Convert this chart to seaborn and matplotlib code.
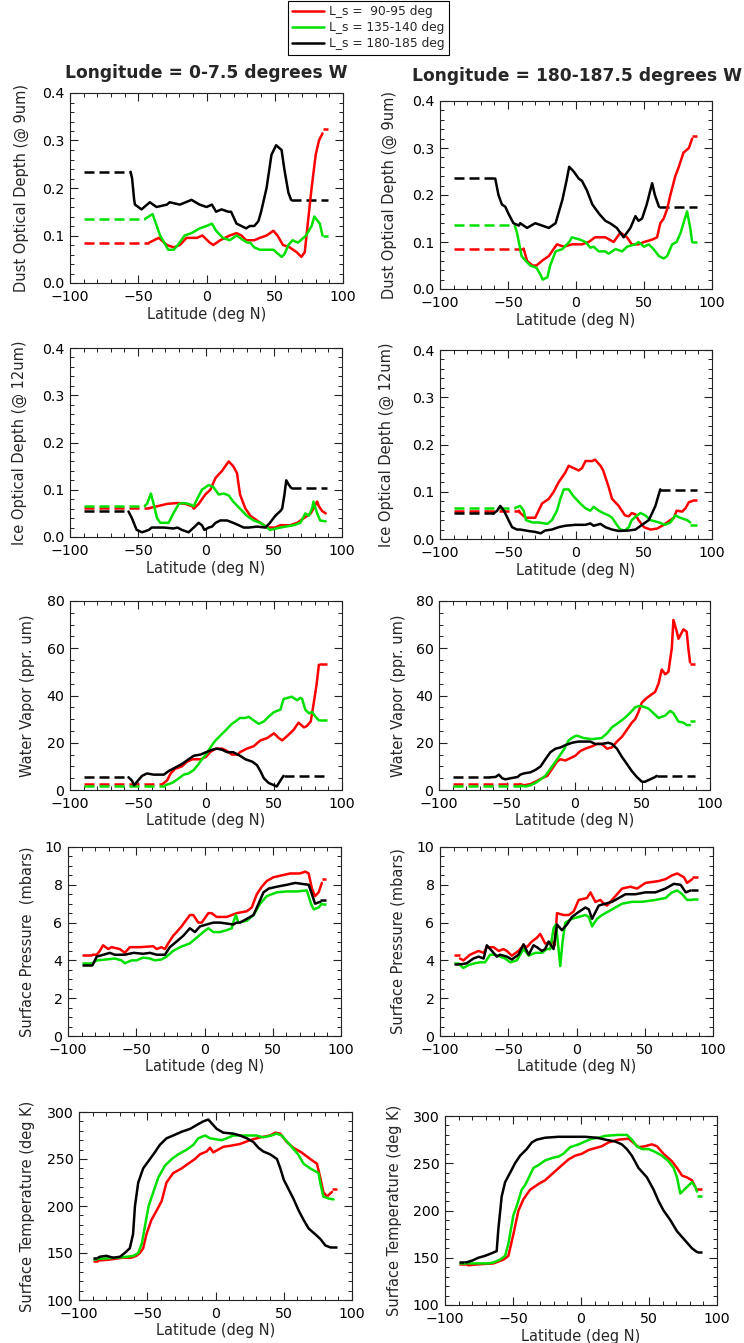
import matplotlib
matplotlib.use("Agg")
import matplotlib.pyplot as plt
from matplotlib.ticker import MultipleLocator, FormatStrFormatter
import pandas as pd
import seaborn as sns

# ---------------------------------------------------------------- seasons
SEASONS = ["L_s =  90-95 deg", "L_s = 135-140 deg", "L_s = 180-185 deg"]
COLORS = ["#ff0000", "#00e000", "#000000"]

# ---------------------------------------------------------------- dust, 0-7.5 W
dust_w0_red_lat = [-42, -35, -29, -24, -19.5, -14.6, -7, -3, 2.4, 5, 10, 17, 22, 25.6, 29, 35, 39, 44, 49,
                   52, 56, 61, 66, 69.5, 72, 74, 77, 80, 82.4, 85]
dust_w0_red_val = [0.085, 0.095, 0.08, 0.075, 0.08, 0.095, 0.095, 0.1, 0.085, 0.08, 0.09, 0.1, 0.105, 0.1,
                   0.09, 0.09, 0.095, 0.1, 0.11, 0.1, 0.08, 0.075, 0.065, 0.055, 0.065, 0.12, 0.2, 0.27, 0.3,
                   0.315]
dust_w0_red_ends = (0.085, 0.325)
dust_w0_grn_lat = [-45, -39.5, -34, -28, -24, -21, -16, -11, -5, 0, 4, 7, 12, 17, 22, 27, 30, 32, 35, 39, 49,
                   51, 55, 57, 60, 63, 67, 71, 73, 77, 79, 83, 85]
dust_w0_grn_val = [0.135, 0.145, 0.1, 0.07, 0.07, 0.08, 0.1, 0.105, 0.115, 0.12, 0.125, 0.11, 0.095, 0.09,
                   0.1, 0.09, 0.085, 0.085, 0.075, 0.07, 0.07, 0.065, 0.055, 0.06, 0.08, 0.09, 0.085, 0.095,
                   0.1, 0.12, 0.14, 0.125, 0.1]
dust_w0_grn_ends = (0.134, 0.1)
dust_w0_blk_lat = [-55.6, -54.5, -53, -52.4, -47.6, -41.5, -36.6, -29, -27, -19.5, -11, -5, 0, 4, 7, 11, 16,
                   18, 22, 25.6, 29, 31.7, 35, 38, 40, 44, 47.6, 51, 55, 57, 60, 62]
dust_w0_blk_val = [0.234, 0.22, 0.175, 0.165, 0.155, 0.17, 0.16, 0.165, 0.17, 0.165, 0.175, 0.165, 0.16,
                   0.165, 0.15, 0.155, 0.15, 0.15, 0.125, 0.12, 0.115, 0.12, 0.12, 0.13, 0.15, 0.2, 0.27, 0.29,
                   0.28, 0.24, 0.19, 0.175]
dust_w0_blk_ends = (0.234, 0.175)

# ---------------------------------------------------------------- dust, 180-187.5 W
dust_w180_red_lat = [-38.5, -36, -32, -29, -25, -20, -17.7, -14, -9, -3, 4.4, 9.3, 14, 21.6, 27.7, 32.6, 37.5,
                     41, 46, 50, 56, 59.6, 62, 64.5, 67, 69.4, 73, 75.6, 79, 83, 85.4]
dust_w180_red_val = [0.086, 0.06, 0.05, 0.05, 0.06, 0.07, 0.08, 0.095, 0.09, 0.095, 0.095, 0.1, 0.11, 0.11,
                     0.1, 0.12, 0.11, 0.095, 0.095, 0.1, 0.105, 0.11, 0.14, 0.15, 0.17, 0.2, 0.24, 0.26, 0.29,
                     0.3, 0.32]
dust_w180_red_ends = (0.086, 0.325)
dust_w180_grn_lat = [-45, -43.4, -40, -37, -33.6, -29, -26, -24.5, -21, -19, -15, -10, -5, -3, 3, 7, 10.5, 13,
                     16.7, 21.6, 24, 29, 34, 37.5, 43.7, 46, 50, 53.5, 57, 61, 64.5, 67, 70.7, 74, 77, 79,
                     81.7, 84, 85.4]
dust_w180_grn_val = [0.135, 0.12, 0.07, 0.06, 0.05, 0.045, 0.03, 0.02, 0.025, 0.05, 0.08, 0.085, 0.1, 0.11,
                     0.105, 0.1, 0.088, 0.09, 0.08, 0.08, 0.075, 0.085, 0.08, 0.09, 0.095, 0.1, 0.09, 0.095,
                     0.085, 0.07, 0.065, 0.07, 0.095, 0.1, 0.12, 0.14, 0.165, 0.13, 0.1]
dust_w180_grn_ends = (0.136, 0.1)
dust_w180_blk_lat = [-59.4, -57, -54.5, -52, -49.6, -46, -42, -41, -36, -30, -25, -20, -15, -10, -7, -5, -1.7,
                     2, 4.4, 8, 12, 17, 21.6, 25, 30, 35, 37.5, 40, 43.7, 46, 48.6, 52, 56, 58, 61]
dust_w180_blk_val = [0.235, 0.2, 0.18, 0.175, 0.16, 0.14, 0.135, 0.14, 0.13, 0.14, 0.135, 0.13, 0.14, 0.19,
                     0.23, 0.26, 0.25, 0.235, 0.23, 0.21, 0.18, 0.16, 0.145, 0.14, 0.13, 0.11, 0.12, 0.13,
                     0.155, 0.145, 0.15, 0.18, 0.225, 0.2, 0.175]
dust_w180_blk_ends = (0.237, 0.175)

# ---------------------------------------------------------------- ice, 0-7.5 W
ice_w0_red_lat = [-42, -36, -28.7, -21, -15, -10, -9, -5.4, -0.5, 3.2, 7, 11.8, 16.7, 20, 22.8, 25, 29, 32.6,
                  37.5, 42.5, 45, 51, 54.7, 62, 67, 72, 77, 79, 81.7, 83, 85.4, 88]
ice_w0_red_val = [0.061, 0.065, 0.07, 0.072, 0.07, 0.065, 0.06, 0.07, 0.09, 0.1, 0.125, 0.14, 0.16, 0.15,
                  0.135, 0.09, 0.06, 0.045, 0.035, 0.025, 0.02, 0.02, 0.025, 0.025, 0.03, 0.04, 0.05, 0.06,
                  0.075, 0.065, 0.055, 0.05]
ice_w0_red_ends = (0.061, None)
ice_w0_grn_lat = [-45, -43.4, -40.5, -38.5, -36, -33.6, -27.5, -24, -20, -16.4, -12.8, -9, -6.6, -3, 2, 5.6,
                  9.3, 13, 16.7, 20, 25, 30, 35, 40, 42.5, 45, 47, 54.7, 64.5, 69.4, 73, 75.6, 78, 79, 81.7,
                  84, 88]
ice_w0_grn_val = [0.066, 0.07, 0.092, 0.07, 0.04, 0.03, 0.03, 0.05, 0.07, 0.072, 0.07, 0.065, 0.08, 0.1,
                  0.11, 0.105, 0.09, 0.092, 0.088, 0.075, 0.06, 0.045, 0.035, 0.03, 0.025, 0.02, 0.015, 0.02,
                  0.025, 0.03, 0.05, 0.045, 0.06, 0.075, 0.05, 0.035, 0.033]
ice_w0_grn_ends = (0.066, None)
ice_w0_blk_lat = [-57, -54.5, -51, -47, -42, -40, -31, -24, -21, -17.7, -12.8, -9, -5.4, -3, -1.2, 2, 4.4, 7,
                  10.5, 15.5, 20, 24, 27.7, 31.4, 37.5, 43.7, 47, 51, 54.7, 56, 57.7, 59, 61, 62.6]
ice_w0_blk_val = [0.054, 0.04, 0.015, 0.01, 0.015, 0.02, 0.02, 0.018, 0.02, 0.015, 0.01, 0.02, 0.03, 0.025,
                  0.015, 0.02, 0.022, 0.03, 0.035, 0.035, 0.03, 0.025, 0.02, 0.02, 0.022, 0.02, 0.03, 0.045,
                  0.055, 0.06, 0.09, 0.12, 0.11, 0.104]
ice_w0_blk_ends = (0.054, 0.104)

# ---------------------------------------------------------------- ice, 180-187.5 W
ice_w180_red_lat = [-42, -41, -37, -30, -27.5, -25, -20, -16.4, -12.8, -8, -5.4, -1.7, 2, 4.4, 7, 12, 14, 18,
                    20, 24, 26.5, 31.4, 36, 38.8, 41, 43.7, 46, 50, 54.7, 59.6, 64.5, 69.4, 72, 74, 78, 80.5,
                    83, 85.4]
ice_w180_red_val = [0.06, 0.055, 0.045, 0.045, 0.06, 0.075, 0.085, 0.1, 0.12, 0.14, 0.155, 0.15, 0.145, 0.15,
                    0.165, 0.165, 0.168, 0.155, 0.145, 0.11, 0.085, 0.07, 0.05, 0.048, 0.055, 0.052, 0.04,
                    0.025, 0.02, 0.022, 0.03, 0.04, 0.045, 0.06, 0.058, 0.065, 0.078, 0.08]
ice_w180_red_ends = (0.06, 0.082)
ice_w180_grn_lat = [-44.6, -41, -38.5, -36.8, -32, -27.5, -21, -17.7, -14, -11.5, -9, -5.4, -1.7, 3.2, 7, 10.5,
                    13, 16.7, 20, 24, 26.5, 30, 32.6, 36, 38.8, 41, 45, 47.4, 51, 54.7, 61, 65.6, 69.4, 73,
                    76.5, 81.7, 84]
ice_w180_grn_val = [0.066, 0.07, 0.06, 0.04, 0.035, 0.035, 0.032, 0.04, 0.06, 0.085, 0.105, 0.105, 0.09,
                    0.075, 0.065, 0.06, 0.068, 0.06, 0.055, 0.05, 0.045, 0.03, 0.02, 0.018, 0.025, 0.04, 0.05,
                    0.055, 0.05, 0.04, 0.035, 0.03, 0.035, 0.05, 0.045, 0.04, 0.035]
ice_w180_grn_ends = (0.065, 0.03)
ice_w180_blk_lat = [-60.6, -58, -55.7, -53, -49.6, -47, -43.4, -41, -35, -30, -26, -22.6, -17.7, -12.8, -8,
                    -0.5, 7, 10.5, 13, 18, 21.6, 26.5, 31.4, 38.8, 43.7, 48.6, 53.5, 56, 58.4, 60.4, 62]
ice_w180_blk_val = [0.054, 0.06, 0.07, 0.06, 0.04, 0.025, 0.02, 0.02, 0.017, 0.015, 0.012, 0.018, 0.02, 0.025,
                    0.028, 0.03, 0.03, 0.033, 0.028, 0.032, 0.025, 0.02, 0.017, 0.018, 0.02, 0.03, 0.04,
                    0.055, 0.07, 0.09, 0.105]
ice_w180_blk_ends = (0.054, 0.103)

# ---------------------------------------------------------------- water vapour, 0-7.5 W
wv_w0_red_lat = [-32, -28.7, -26, -22.6, -17.7, -14, -10, -4, 0, 3, 7, 12, 15.5, 19, 23, 25, 30, 35, 40, 45,
                 50, 53.5, 56, 60, 64.5, 68, 72, 74, 77, 79, 81.4, 83]
wv_w0_red_val = [2.5, 4, 7, 9, 10, 12, 13, 13, 14, 16, 17.5, 17.5, 16.5, 15, 15, 16, 17.5, 18.5, 21, 22, 24,
                 22, 21, 23, 25.5, 28.5, 26.5, 27, 29, 36, 45, 53]
wv_w0_red_ends = (2.5, 53.4)
wv_w0_grn_lat = [-30, -25, -21, -16.4, -12.8, -9, -5.4, -3, 0, 3.2, 7, 10.5, 14, 19, 21.6, 25, 29, 31.4, 35,
                 38.8, 42.5, 46, 50, 54.7, 57, 60, 63, 67, 69.4, 70.7, 73, 75.6, 78, 80.5, 83]
wv_w0_grn_val = [2, 3, 4.5, 6.5, 7, 8.5, 11, 13, 15, 18, 21, 23, 25, 28, 29, 30.5, 30.5, 31, 29.5, 28, 29, 31,
                 33, 34, 38.5, 39, 39.5, 38, 39, 38.5, 34, 32.5, 33, 31, 29.5]
wv_w0_grn_ends = (1.7, 29.5)
wv_w0_blk_lat = [-57, -54.5, -52.8, -50, -47, -43.4, -38.5, -31, -27.5, -22.6, -17.7, -12.8, -9, -4, 0, 4.4,
                 8, 12, 15.5, 20, 25, 29, 34, 37.5, 40, 42.5, 46, 50, 52, 54.7, 57]
wv_w0_blk_val = [5.4, 4, 2, 4, 6, 7, 6.5, 6.5, 8, 9.5, 11, 13, 14.5, 15, 16, 17, 17.5, 17, 16, 16, 14.5, 13,
                 12, 10.5, 8, 5, 3, 2, 1.5, 4, 6]
wv_w0_blk_ends = (5.4, 6.1)

# ---------------------------------------------------------------- water vapour, 180-187.5 W
wv_w180_red_lat = [-40, -37.4, -32.5, -28.8, -24, -20, -16.5, -13, -10.4, -6.7, -3, 0.6, 4.3, 8, 13, 16.6, 20,
                   24, 27.6, 31.3, 35, 38.7, 42.3, 44.8, 47.2, 49.7, 53.4, 57, 59.5, 62, 64.4, 66.9, 69.3,
                   71.8, 73, 75.5, 76.7, 80.4, 82.8, 84, 85.3]
wv_w180_red_val = [2.5, 2, 2.5, 3.5, 5, 6, 9, 12, 13, 12.5, 13.5, 14.5, 16.5, 17.5, 18.5, 19.5, 19.5, 17.5,
                   18, 20.5, 22.5, 25.5, 28.5, 30, 33, 37, 39, 40.5, 41.5, 45, 51, 49, 50, 60, 72, 67, 64, 68,
                   67, 60, 54]
wv_w180_red_ends = (2.5, 53.5)
wv_w180_grn_lat = [-40, -36, -32.5, -28.8, -25, -21.5, -17.8, -14, -10.4, -8, -4.3, -0.6, 1.8, 6.7, 12.9, 20,
                   24, 27.6, 31.3, 36, 39.9, 44.8, 47.2, 49.7, 54.6, 58.3, 62, 66.9, 70.6, 73, 76.7, 80.4,
                   82.8, 85.3]
wv_w180_grn_val = [1.8, 1.5, 2, 3, 4.5, 6, 9, 12, 15, 17, 21, 22.5, 23, 22, 21.5, 22, 24, 26.5, 28, 30, 32,
                   35, 35.5, 35.5, 34.5, 32.5, 30.5, 31.5, 33.5, 32.5, 29, 28.5, 27.5, 27.5]
wv_w180_grn_ends = (1.8, 29)
wv_w180_blk_lat = [-62, -58.3, -55.8, -53.4, -51, -47, -42, -40, -37.4, -32.5, -28.8, -25, -21.5, -17.8, -14,
                   -10.4, -6.7, -1.8, 3, 8, 11.6, 15.3, 20, 25, 27.6, 31.3, 35, 38.7, 42.3, 46, 49.7, 52,
                   55.8, 59.5, 60.7]
wv_w180_blk_val = [5.4, 5.5, 6.5, 5, 4.5, 5, 5.5, 6.5, 7, 7.5, 8.5, 10, 13, 16, 17.5, 18, 19, 20, 20.5, 20.5,
                   20.5, 19.5, 19.5, 20, 19.5, 17.5, 14, 11, 8, 5.5, 3.5, 3.5, 4.5, 5.5, 6]
wv_w180_blk_ends = (5.4, 6)

# ---------------------------------------------------------------- surface pressure, 0-7.5 W
ps_w0_red_lat = [-82, -79, -76.7, -74.3, -70.6, -68, -62, -58.4, -54.7, -47.4, -37.6, -35, -31.5, -29, -26.6,
                 -23, -20.4, -16.8, -10.7, -8.2, -4.5, -2, 2.8, 5.2, 8.9, 16.3, 23.6, 31, 34.6, 38.3, 42,
                 45.6, 50.5, 56.7, 62.8, 70, 73.8, 76.3, 78.7, 81, 83.6, 86]
ps_w0_red_val = [4.3, 4.3, 4.5, 4.8, 4.6, 4.7, 4.6, 4.4, 4.7, 4.7, 4.75, 4.6, 4.7, 4.6, 4.9, 5.3, 5.5, 5.8,
                 6.4, 6.4, 6.0, 6.0, 6.5, 6.5, 6.3, 6.3, 6.5, 6.6, 6.8, 7.5, 7.9, 8.2, 8.4, 8.5, 8.6, 8.6,
                 8.7, 8.6, 7.8, 7.4, 7.6, 8.1]
ps_w0_red_ends = (4.3, 8.3)
ps_w0_grn_lat = [-82, -79, -72, -65.8, -60.8, -58.4, -53.5, -49.8, -45, -40, -36.4, -31.5, -27.8, -23, -18,
                 -10.7, -5.8, -0.9, 2.8, 6.5, 11.4, 16.3, 20, 21, 23, 24.8, 31, 35.9, 40.8, 45.6, 53, 60.3,
                 67.7, 75, 78, 80, 83.6, 86]
ps_w0_grn_val = [3.85, 4.0, 4.05, 4.1, 4.0, 3.85, 4.0, 4.0, 4.15, 4.1, 4.0, 4.05, 4.2, 4.5, 4.7, 4.9, 5.2,
                 5.5, 5.7, 5.5, 5.5, 5.6, 5.7, 6.0, 6.4, 6.0, 6.1, 6.4, 7.0, 7.4, 7.6, 7.65, 7.65, 7.7, 7.0,
                 6.7, 6.8, 7.0]
ps_w0_grn_ends = (3.85, 7.0)
ps_w0_blk_lat = [-82, -79, -74, -69.4, -65.8, -58.4, -52, -45, -40, -35, -29, -25.4, -20.4, -15.6, -10.7, -7,
                 -3.3, 1.6, 6.5, 11.4, 16.3, 21, 23.6, 26, 31, 35.9, 39.6, 43.2, 47, 53, 60.3, 66.5, 71.3,
                 76.3, 78.7, 81, 84.8]
ps_w0_blk_val = [3.75, 4.2, 4.3, 4.4, 4.3, 4.3, 4.4, 4.35, 4.4, 4.3, 4.3, 4.7, 5.0, 5.3, 5.7, 5.5, 5.8, 5.9,
                 6.0, 6.0, 5.95, 5.9, 6.0, 6.0, 6.2, 6.4, 7.0, 7.6, 7.8, 7.9, 8.0, 8.1, 8.05, 8.0, 7.5, 7.0,
                 7.1]
ps_w0_blk_ends = (3.75, 7.2)

# ---------------------------------------------------------------- surface pressure, 180-187.5 W
ps_w180_red_lat = [-85.3, -82.9, -78, -71.8, -68, -65.7, -60.8, -57, -53.5, -51, -47.4, -42.5, -38.8, -36.4,
                   -32.7, -29, -26.6, -23, -20.4, -18, -16, -14.3, -9.4, -5.7, -2, 1.6, 7.7, 10.2, 13.8,
                   17.5, 20, 22.4, 26, 29.7, 33.4, 39.5, 44.4, 50.5, 60.3, 65.2, 70, 73.8, 78.7, 81, 84.8]
ps_w180_red_val = [4.1, 4.0, 4.3, 4.5, 4.4, 4.7, 4.7, 4.5, 4.6, 4.5, 4.25, 4.5, 4.8, 4.7, 5.0, 5.2, 5.4, 4.9,
                   4.9, 5.0, 4.8, 6.5, 6.4, 6.4, 6.6, 7.2, 7.3, 7.6, 7.1, 7.2, 7.0, 6.9, 7.2, 7.5, 7.8, 7.9,
                   7.8, 8.1, 8.2, 8.3, 8.5, 8.6, 8.4, 8.1, 8.3]
ps_w180_red_ends = (4.3, 8.4)
ps_w180_grn_lat = [-86, -82.9, -79.2, -74.3, -70.6, -67, -63.3, -59.6, -56, -52.3, -48.6, -43.7, -38.8, -35,
                   -30.2, -25.4, -21.7, -19.2, -16.8, -15, -13, -11.9, -10.2, -8.2, -3.3, 1.6, 6.5, 9, 11.4,
                   15, 18.7, 23.6, 28.5, 33.4, 40.8, 48, 57.8, 65.2, 70, 73.8, 77.5, 81, 84.8]
ps_w180_grn_val = [3.8, 3.6, 3.75, 3.85, 3.9, 3.9, 4.3, 4.3, 4.2, 4.1, 3.9, 4.0, 4.6, 4.25, 4.4, 4.4, 4.6,
                   4.6, 5.7, 5.9, 4.5, 3.7, 5.0, 6.0, 6.2, 6.3, 6.4, 6.3, 5.8, 6.2, 6.4, 6.6, 6.8, 7.0, 7.1,
                   7.1, 7.2, 7.3, 7.6, 7.7, 7.5, 7.2, 7.2]
ps_w180_grn_ends = (3.85, 7.25)
ps_w180_blk_lat = [-86, -84, -80.4, -75.5, -71.8, -68, -65.7, -62, -58.4, -56, -51, -47.4, -42.5, -38.8, -35,
                   -31.5, -29, -25.4, -23, -20.4, -16.8, -14.3, -10.7, -7, -3.3, 0.4, 6.5, 9, 11.4, 16.3, 21,
                   26, 31, 35.9, 43.2, 50.5, 57.8, 65.2, 71.3, 76.3, 80, 83.6]
ps_w180_blk_val = [3.8, 3.8, 3.85, 4.1, 4.2, 4.1, 4.8, 4.5, 4.2, 4.3, 4.2, 4.05, 4.3, 4.85, 4.3, 4.8, 4.7,
                   4.5, 4.6, 5.0, 4.6, 5.9, 5.6, 5.9, 6.3, 6.5, 6.8, 6.7, 6.2, 6.9, 7.0, 7.1, 7.3, 7.5, 7.5,
                   7.6, 7.6, 7.8, 8.05, 8.0, 7.6, 7.7]
ps_w180_blk_ends = (3.8, 7.7)

# ---------------------------------------------------------------- surface temperature, 0-7.5 W
ts_w0_red_lat = [-86, -77.5, -67.8, -61.6, -58, -55.4, -53, -50.6, -47, -43.2, -39.5, -35.9, -31, -24.8, -20,
                 -15, -11.4, -6.5, -4, -1.6, 2, 5.8, 10.7, 18, 25.3, 32.6, 40, 43.7, 47.4, 52.3, 57, 63, 69.4,
                 74.3, 76.8, 79, 81.6, 85.3]
ts_w0_red_val = [142, 143, 145, 145, 147, 150, 155, 170, 185, 195, 205, 225, 235, 240, 245, 250, 255, 258,
                 262, 257, 260, 263, 264, 266, 270, 273, 275, 278, 277, 268, 262, 257, 250, 245, 230, 215,
                 210, 215]
ts_w0_red_ends = (142, 218)
ts_w0_grn_lat = [-86, -82, -72.6, -65, -60, -56.6, -54, -51.5, -49, -45.5, -42, -37, -32, -27.3, -21, -16.3,
                 -12.6, -7.7, -4, 4.5, 8.2, 13, 23, 30, 35, 41, 44.7, 48.5, 54.5, 60.5, 64.5, 69.4, 75.5,
                 76.7, 79, 82.8, 86.5]
ts_w0_grn_val = [144, 144, 145, 146, 147, 150, 160, 180, 200, 215, 230, 243, 250, 255, 260, 265, 272, 275,
                 272, 270, 272, 275, 275, 275, 273, 275, 277, 275, 265, 255, 245, 240, 235, 225, 210, 208,
                 207]
ts_w0_grn_ends = (144, None)
ts_w0_blk_lat = [-86, -84.8, -80, -75, -70, -66.5, -62.8, -60.4, -59, -56.6, -53, -48, -44.5, -40.8, -35.9,
                 -31, -24.8, -18.7, -14, -9, -5.3, -2.8, 0.9, 5.8, 13, 18, 23, 27.8, 31.4, 35, 40, 45, 47.5,
                 50, 53.5, 57, 61, 64.6, 68.3, 73, 76.8, 80.5, 84]
ts_w0_blk_val = [145, 146, 147, 145, 146, 150, 155, 170, 200, 225, 240, 250, 257, 265, 272, 275, 279, 282,
                 286, 290, 292, 288, 282, 278, 277, 275, 272, 268, 262, 258, 255, 250, 240, 228, 218, 208,
                 195, 185, 176, 170, 165, 158, 156]
ts_w0_blk_ends = (145, 156)

# ---------------------------------------------------------------- surface temperature, 180-187.5 W
ts_w180_red_lat = [-83, -75.5, -64.4, -57, -53.4, -49.7, -46, -42.3, -37.4, -31.3, -26.4, -20.2, -14, -9.2,
                   -4.3, 0.6, 5.5, 10.4, 15.3, 20.2, 27.6, 35, 39.9, 42.3, 47.2, 52, 55.8, 60.7, 66.9, 70.6,
                   74.3, 77.9, 81.6, 84]
ts_w180_red_val = [142, 143, 144, 148, 152, 175, 200, 212, 222, 228, 232, 240, 248, 254, 258, 260, 264, 266,
                   268, 272, 275, 276, 270, 267, 268, 270, 268, 260, 252, 245, 237, 235, 232, 225]
ts_w180_red_ends = (143, 223)
ts_w180_grn_lat = [-85, -68, -64.4, -59.5, -55.8, -53.4, -49.7, -47.2, -43.6, -41, -35, -31.3, -26.4, -20.2,
                   -16.6, -13, -8, -1.8, 3, 8, 12.9, 17.8, 27.6, 33.7, 37.4, 41, 44.8, 49.7, 54.6, 59.5,
                   64.4, 68.1, 70.6, 73, 78, 81.6, 84, 85.3]
ts_w180_grn_val = [144, 144, 145, 148, 152, 165, 195, 205, 222, 227, 245, 248, 253, 256, 257, 260, 267, 270,
                   273, 276, 277, 279, 280, 280, 275, 268, 265, 265, 262, 258, 252, 245, 235, 218, 225, 230,
                   225, 220]
ts_w180_grn_ends = (144, 215)
ts_w180_blk_lat = [-84.5, -80, -75.5, -70.6, -67, -62, -60.8, -58.3, -55.8, -52.1, -48.5, -44.8, -39.9,
                   -36.2, -32.5, -26.4, -16.6, -6.7, 3, 11.7, 17.8, 25.2, 30, 33.7, 37.4, 42.3, 48.5, 53.4,
                   57, 60.7, 65.6, 70.6, 75.5, 81.6, 85.3]
ts_w180_blk_val = [145, 147, 150, 152, 154, 157, 180, 215, 230, 240, 250, 258, 265, 272, 275, 277, 278, 278,
                   278, 277, 275, 273, 270, 265, 258, 245, 235, 222, 210, 200, 190, 178, 170, 160, 156]
ts_w180_blk_ends = (146, 156)

# ---------------------------------------------------------------- panel definitions
TITLES = ["Longitude = 0-7.5 degrees W", "Longitude = 180-187.5 degrees W"]
XLABEL = "Latitude (deg N)"

W, H = 744, 1343
# (name, series, ylabel, ylim, major step, minor step, tick format, axes box [l, t, r, b] px, ylabel x px)
PANELS = [
    ("dust0", [(dust_w0_red_lat, dust_w0_red_val, dust_w0_red_ends),
               (dust_w0_grn_lat, dust_w0_grn_val, dust_w0_grn_ends),
               (dust_w0_blk_lat, dust_w0_blk_val, dust_w0_blk_ends)],
     "Dust Optical Depth (@ 9um)", (0, 0.4), 0.1, 0.02, "%.1f", (70, 93, 343, 283), 21),
    ("dust180", [(dust_w180_red_lat, dust_w180_red_val, dust_w180_red_ends),
                 (dust_w180_grn_lat, dust_w180_grn_val, dust_w180_grn_ends),
                 (dust_w180_blk_lat, dust_w180_blk_val, dust_w180_blk_ends)],
     "Dust Optical Depth (@ 9um)", (0, 0.4), 0.1, 0.02, "%.1f", (440, 101, 712, 289), 389),
    ("ice0", [(ice_w0_red_lat, ice_w0_red_val, ice_w0_red_ends),
              (ice_w0_grn_lat, ice_w0_grn_val, ice_w0_grn_ends),
              (ice_w0_blk_lat, ice_w0_blk_val, ice_w0_blk_ends)],
     "Ice Optical Depth (@ 12um)", (0, 0.4), 0.1, 0.02, "%.1f", (70, 348, 342, 537), 19),
    ("ice180", [(ice_w180_red_lat, ice_w180_red_val, ice_w180_red_ends),
                (ice_w180_grn_lat, ice_w180_grn_val, ice_w180_grn_ends),
                (ice_w180_blk_lat, ice_w180_blk_val, ice_w180_blk_ends)],
     "Ice Optical Depth (@ 12um)", (0, 0.4), 0.1, 0.02, "%.1f", (440, 350, 712, 539), 386),
    ("wv0", [(wv_w0_red_lat, wv_w0_red_val, wv_w0_red_ends),
             (wv_w0_grn_lat, wv_w0_grn_val, wv_w0_grn_ends),
             (wv_w0_blk_lat, wv_w0_blk_val, wv_w0_blk_ends)],
     "Water Vapor (ppr. um)", (0, 80), 20, 5, "%d", (70, 601, 342, 790), 28),
    ("wv180", [(wv_w180_red_lat, wv_w180_red_val, wv_w180_red_ends),
               (wv_w180_grn_lat, wv_w180_grn_val, wv_w180_grn_ends),
               (wv_w180_blk_lat, wv_w180_blk_val, wv_w180_blk_ends)],
     "Water Vapor (ppr. um)", (0, 80), 20, 5, "%d", (439, 601, 710, 790), 398),
    ("ps0", [(ps_w0_red_lat, ps_w0_red_val, ps_w0_red_ends),
             (ps_w0_grn_lat, ps_w0_grn_val, ps_w0_grn_ends),
             (ps_w0_blk_lat, ps_w0_blk_val, ps_w0_blk_ends)],
     "Surface Pressure  (mbars)", (0, 10), 2, 0.5, "%d", (68, 847, 341, 1036), 27),
    ("ps180", [(ps_w180_red_lat, ps_w180_red_val, ps_w180_red_ends),
               (ps_w180_grn_lat, ps_w180_grn_val, ps_w180_grn_ends),
               (ps_w180_blk_lat, ps_w180_blk_val, ps_w180_blk_ends)],
     "Surface Pressure (mbars)", (0, 10), 2, 0.5, "%d", (440, 847, 713, 1036), 398),
    ("ts0", [(ts_w0_red_lat, ts_w0_red_val, ts_w0_red_ends),
             (ts_w0_grn_lat, ts_w0_grn_val, ts_w0_grn_ends),
             (ts_w0_blk_lat, ts_w0_blk_val, ts_w0_blk_ends)],
     "Surface Temperature (deg K)", (100, 300), 50, 10, "%d", (79, 1112, 352, 1300), 28),
    ("ts180", [(ts_w180_red_lat, ts_w180_red_val, ts_w180_red_ends),
               (ts_w180_grn_lat, ts_w180_grn_val, ts_w180_grn_ends),
               (ts_w180_blk_lat, ts_w180_blk_val, ts_w180_blk_ends)],
     "Surface Temperature (deg K)", (100, 300), 50, 10, "%d", (445, 1116, 717, 1305), 394),
]


def long_frames(series):
    """Solid retrieval curves plus dashed constant polar extensions."""
    solid, dashed = [], []
    for season, (lat, val, (lo, hi)) in zip(SEASONS, series):
        solid += [(season, la, v) for la, v in zip(lat, val)]
        if lo is not None:
            dashed += [(season, season + " lo", -90.0, lo), (season, season + " lo", lat[0], lo)]
        if hi is not None:
            dashed += [(season, season + " hi", lat[-1], hi), (season, season + " hi", 89.0, hi)]
    solid = pd.DataFrame(solid, columns=["season", "lat", "val"])
    dashed = pd.DataFrame(dashed, columns=["season", "seg", "lat", "val"])
    return solid, dashed


sns.set_theme(style="ticks")
plt.rcParams["font.family"] = ["DejaVu Sans"]
plt.rcParams["axes.linewidth"] = 0.8
plt.rcParams["axes.edgecolor"] = "#222222"

fig = plt.figure(figsize=(W / 100, H / 100), dpi=100)
palette = dict(zip(SEASONS, COLORS))
legend_handles = None

for name, series, ylabel, ylim, major, minor, fmt, (l, t, r, b), ylab_x in PANELS:
    ax = fig.add_axes([l / W, 1 - b / H, (r - l) / W, (b - t) / H])
    solid, dashed = long_frames(series)
    sns.lineplot(data=dashed, x="lat", y="val", hue="season", hue_order=SEASONS, palette=palette,
                 units="seg", estimator=None, sort=False, linewidth=1.8, linestyle=(0, (4, 2)),
                 legend=False, ax=ax)
    sns.lineplot(data=solid, x="lat", y="val", hue="season", hue_order=SEASONS, palette=palette,
                 estimator=None, sort=False, linewidth=1.8, legend=(name == "dust0"), ax=ax)
    if name == "dust0":
        legend_handles = ax.get_legend_handles_labels()
        ax.get_legend().remove()

    ax.set_xlim(-100, 100)
    ax.set_ylim(*ylim)
    ax.xaxis.set_major_locator(MultipleLocator(50))
    ax.xaxis.set_minor_locator(MultipleLocator(10))
    ax.yaxis.set_major_locator(MultipleLocator(major))
    ax.yaxis.set_minor_locator(MultipleLocator(minor))
    ax.yaxis.set_major_formatter(FormatStrFormatter(fmt))
    ax.tick_params(which="both", direction="in", top=True, right=True, colors="#222222",
                   labelcolor="black", labelsize=10.2)
    ax.tick_params(which="major", length=5.5, width=0.8)
    ax.tick_params(axis="x", which="major", pad=5)
    ax.tick_params(axis="y", which="major", pad=4)
    ax.tick_params(which="minor", length=2.8, width=0.7)

    ax.set_xlabel(XLABEL, fontsize=10.5)
    ax.set_ylabel(ylabel, fontsize=10.5)
    ax.yaxis.label.set_va("center")
    ax.xaxis.label.set_va("center")
    ax.yaxis.set_label_coords((ylab_x - l) / (r - l), 0.5)
    ax.xaxis.set_label_coords(0.5, -31 / (b - t))

fig.text(206 / W, 1 - 73 / H, TITLES[0], ha="center", va="center", fontsize=12.3, fontweight="bold")
fig.text(577 / W, 1 - 76 / H, TITLES[1], ha="center", va="center", fontsize=12.3, fontweight="bold")

handles, labels = legend_handles
leg = fig.legend(handles, labels, loc="upper left", bbox_to_anchor=(288 / W, 1 - 1 / H),
                 fontsize=8.8, frameon=True, fancybox=False, edgecolor="black", framealpha=1,
                 handlelength=2.6, handletextpad=0.4, borderpad=0.35, labelspacing=0.25,
                 borderaxespad=0)
leg.get_frame().set_linewidth(0.8)

fig.savefig("out.png", dpi=100)
